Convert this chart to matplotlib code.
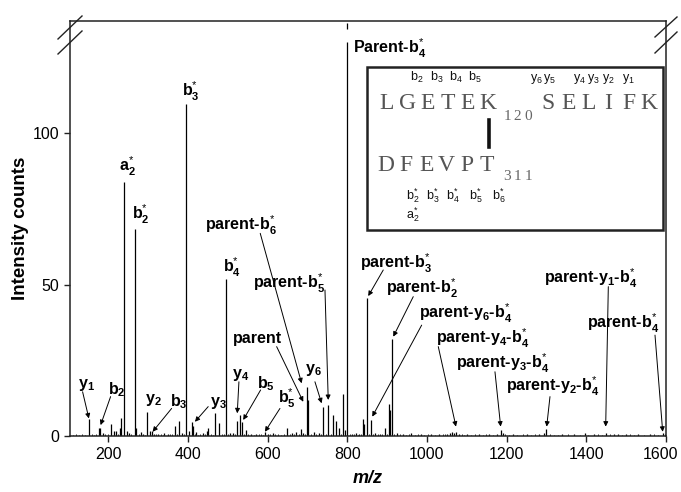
import numpy as np
import matplotlib
matplotlib.use('Agg')
from matplotlib import pyplot as plt
from matplotlib.patches import Rectangle
from matplotlib.lines import Line2D
from matplotlib.transforms import ScaledTranslation

plt.rcParams['font.family'] = ['Liberation Sans', 'DejaVu Sans']
plt.rcParams['mathtext.fontset'] = 'custom'
plt.rcParams['mathtext.rm'] = 'Liberation Sans'
plt.rcParams['mathtext.it'] = 'Liberation Sans:italic'
plt.rcParams['mathtext.bf'] = 'Liberation Sans:bold'

# peaks (m/z, intensity counts)
peak_mz = [151, 176, 180, 186, 206, 215, 219, 229, 233, 239, 246, 252, 267, 270, 281, 287,
           298, 304, 309, 315, 326, 341, 349, 367, 377, 384, 395, 403, 409, 413, 421, 437,
           447, 451, 468, 478, 495, 505, 513, 522, 530, 536, 546, 559, 571, 593, 601, 613,
           648, 660, 672, 684, 690, 698, 702, 716, 730, 740, 752, 765, 772, 778, 790, 795,
           799, 812, 821, 830, 840, 843, 849, 859, 870, 881, 895, 904, 907, 913, 925, 940,
           960, 985, 1010, 1030, 1050, 1058, 1063, 1068, 1073, 1080, 1100, 1130, 1155, 1175,
           1186, 1190, 1215, 1250, 1280, 1293, 1300, 1340, 1370, 1397, 1420, 1449, 1470,
           1480, 1500, 1530, 1560, 1592]
peak_int = [5.5, 2.5, 2.7, 1.0, 4.0, 1.5, 1.8, 2.5, 5.8, 84, 1.6, 1.0, 68.3, 2.5, 1.3, 0.8,
            7.8, 1.5, 1.6, 0.8, 0.6, 0.9, 0.7, 3.4, 5.0, 1.0, 109.5, 1.5, 4.5, 3.2, 1.2, 1.0,
            1.5, 2.5, 7.5, 4.2, 51.7, 1.0, 1.1, 5.0, 6.9, 4.5, 2.0, 0.8, 0.7, 1.2, 0.8, 1.0,
            2.8, 1.1, 1.2, 2.2, 1.0, 16.3, 11.9, 1.2, 1.0, 9.7, 10.2, 6.9, 5.0, 2.5, 14.0, 2.0,
            130, 0.8, 0.9, 0.7, 5.5, 4.0, 45.4, 5.3, 1.0, 0.8, 2.5, 10.6, 8.5, 31.9, 1.0, 0.8,
            1.0, 0.6, 0.5, 0.6, 0.8, 1.0, 1.2, 1.0, 1.3, 0.7, 0.6, 0.5, 0.6, 0.7,
            1.9, 0.9, 0.6, 0.5, 0.6, 0.9, 2.3, 0.5, 0.6, 1.0, 0.5, 1.1, 0.6,
            0.7, 0.8, 0.5, 0.6, 1.1]

# low baseline grass
noise = [(112, .4), (120, .6), (127, .3), (134, .5), (141, .4), (158, .6), (164, .4), (170, .7),
         (193, .5), (199, .8), (224, .6), (258, .5), (276, .7), (292, .4), (321, .5), (333, .6),
         (337, .4), (355, .5), (361, .7), (372, .6), (390, .5), (417, .6), (426, .4), (431, .6),
         (442, .5), (458, .6), (463, .4), (486, .7), (490, .5), (500, .6), (518, .5), (541, .6),
         (552, .5), (565, .4), (578, .6), (584, .5), (589, .4), (607, .6), (619, .5), (626, .7),
         (633, .4), (640, .5), (655, .6), (666, .5), (678, .7), (694, .6), (708, .8), (722, .6),
         (735, .7), (746, .8), (758, .6), (784, .7), (806, .5), (816, .6), (826, .4), (835, .5),
         (854, .6), (864, .5), (876, .6), (887, .5), (900, .7), (918, .5), (932, .6), (948, .4),
         (955, .5), (970, .4), (978, .5), (993, .4), (1003, .5), (1020, .4), (1040, .5),
         (1045, .6), (1088, .5), (1093, .4), (1110, .4), (1120, .5), (1140, .4), (1148, .5),
         (1165, .4), (1197, .5), (1205, .4), (1225, .4), (1240, .5), (1262, .4), (1270, .5),
         (1310, .5), (1320, .4), (1330, .4), (1355, .5), (1385, .4), (1405, .4), (1430, .5),
         (1440, .4), (1460, .5), (1490, .4), (1510, .6), (1520, .4), (1545, .4), (1570, .5),
         (1580, .4), (1597, .5)]
noise_mz = [n[0] for n in noise]
noise_int = [n[1] for n in noise]

# broken top of the Parent-b*4 peak
break_mz = 799
break_seg = (134.5, 136.5)

# (label, label x, label y, arrow start, arrow tip) in data units
labels = [
    (r'b$^{*}_{\mathbf{3}}$', 385, 112.2, None, None),
    (r'a$^{*}_{\mathbf{2}}$', 226.7, 87.2, None, None),
    (r'b$^{*}_{\mathbf{2}}$', 258.6, 71.5, None, None),
    (r'b$^{*}_{\mathbf{4}}$', 487, 53.9, None, None),
    (r'Parent-b$^{*}_{\mathbf{4}}$', 815, 126.3, None, None),
    (r'y$_{\mathbf{2}}$', 292, 10.8, None, None),
    (r'parent-b$^{*}_{\mathbf{6}}$', 442.6, 68.0, (581.5, 66.9), (685.4, 17.4)),
    (r'parent-b$^{*}_{\mathbf{5}}$', 562.5, 48.7, (744, 48.2), (752.2, 11.9)),
    ('parent', 513.9, 30.6, (622.7, 29.5), (689.5, 11.3)),
    (r'y$_{\mathbf{6}}$', 693.7, 20.9, (718.8, 17.9), (735.6, 10.8)),
    (r'y$_{\mathbf{1}}$', 124.5, 15.7, (135.6, 14.6), (151.4, 5.8)),
    (r'b$_{\mathbf{2}}$', 200, 13.8, (205.9, 13.0), (180.8, 3.6)),
    (r'b$_{\mathbf{3}}$', 355, 9.9, (359.1, 9.1), (311.4, 1.4)),
    (r'y$_{\mathbf{3}}$', 455, 9.9, (450.9, 9.7), (417.6, 4.7)),
    (r'y$_{\mathbf{4}}$', 509.7, 19.0, (528, 17.9), (523.8, 7.5)),
    (r'b$_{\mathbf{5}}$', 572.6, 15.7, (582.5, 15.2), (538.8, 5.3)),
    (r'b$^{*}_{\mathbf{5}}$', 625, 10.6, (631, 9.1), (593.3, 1.4)),
    (r'parent-b$^{*}_{\mathbf{3}}$', 832, 55.3, (890.3, 54.8), (852.6, 46.2)),
    (r'parent-b$^{*}_{\mathbf{2}}$', 896, 47.1, (965.6, 46.0), (915.4, 32.8)),
    (r'parent-y$_{\mathbf{6}}$-b$^{*}_{\mathbf{4}}$', 980, 38.8, (986.7, 36.6), (862.7, 6.4)),
    (r'parent-y$_{\mathbf{4}}$-b$^{*}_{\mathbf{4}}$', 1022, 30.6, (1028.4, 29.5), (1072.8, 3.1)),
    (r'parent-y$_{\mathbf{3}}$-b$^{*}_{\mathbf{4}}$', 1073, 22.3, (1170.7, 21.2), (1185, 3.1)),
    (r'parent-y$_{\mathbf{2}}$-b$^{*}_{\mathbf{4}}$', 1197.6, 14.6, (1308.8, 13.0), (1300.5, 3.1)),
    (r'parent-y$_{\mathbf{1}}$-b$^{*}_{\mathbf{4}}$', 1294, 50.4, (1455.2, 49.3), (1448.6, 3.1)),
    (r'parent-b$^{*}_{\mathbf{4}}$', 1402.6, 35.5, (1572.4, 33.3), (1591.7, 1.4)),
]

# inset: peptide sequences
seq_top_left = 'LGETEK'
seq_top_right = 'SELIFK'
seq_bottom = 'DFEVPT'
site_top = '120'
site_bottom = '311'
frag_top_b = [r'b$_{2}$', r'b$_{3}$', r'b$_{4}$', r'b$_{5}$']
frag_top_y = [r'y$_{6}$', r'y$_{5}$', r'y$_{4}$', r'y$_{3}$', r'y$_{2}$', r'y$_{1}$']
frag_bottom = [r'b$^{*}_{2}$', r'b$^{*}_{3}$', r'b$^{*}_{4}$', r'b$^{*}_{5}$', r'b$^{*}_{6}$']

W, H = 681, 492
fig = plt.figure(figsize=(W / 100, H / 100), dpi=100)
ax = fig.add_axes([70 / W, 1 - 436 / H, (666 - 70) / W, (436 - 21) / H])

ax.vlines(noise_mz, 0, noise_int, color='k', lw=0.6)
ax.vlines(peak_mz, 0, peak_int, color='k', lw=0.9)
ax.vlines([break_mz], break_seg[0], break_seg[1], color='k', lw=0.9)

ax.set_xlim(104, 1600)
ax.set_ylim(0, 137)
ax.set_xticks(range(200, 1601, 200))
ax.set_yticks([0, 50, 100])
ax.tick_params(labelsize=11.5, length=4, width=1, pad=4, color='#222')
for s in ax.spines.values():
    s.set_linewidth(1.1)
    s.set_color('#222')
# keep the last tick label inside the picture
last = ax.get_xticklabels()[-1]
last.set_transform(last.get_transform() + ScaledTranslation(-6 / 100, 0, fig.dpi_scale_trans))

ax.set_xlabel('m/z', fontsize=13, fontweight='bold', fontstyle='italic', labelpad=6)
ax.set_ylabel('Intensity counts', fontsize=13.5, fontweight='bold', labelpad=2)

for txt, lx, ly, start, tip in labels:
    ax.text(lx, ly, txt, fontsize=11.5, fontweight='bold', ha='left', va='baseline')
    if start is not None:
        ax.annotate('', xy=tip, xytext=start,
                    arrowprops=dict(arrowstyle='-|>', lw=0.7, color='k',
                                    mutation_scale=7, shrinkA=0, shrinkB=0))


def fx(x):
    return x / W


def fy(y):
    return 1 - y / H


# axis break marks
for (x0, y0, x1, y1) in [(58, 39, 82, 16), (58, 54, 82, 31),
                         (655, 37, 677, 17), (655, 53, 677, 32)]:
    fig.add_artist(Line2D([fx(x0), fx(x1)], [fy(y0), fy(y1)], color='#222', lw=1.0))

# inset box
fig.add_artist(Rectangle((fx(367), fy(230)), (663 - 367) / W, (230 - 67) / H,
                         transform=fig.transFigure, facecolor='white',
                         edgecolor='#222', lw=1.8))

seq_kw = dict(family='Liberation Serif', fontsize=17, color='#555',
              ha='center', va='baseline')
for i, c in enumerate(seq_top_left):
    fig.text(fx(387 + 20.2 * i), fy(109), c, **seq_kw)
for i, c in enumerate(seq_top_right):
    fig.text(fx(548 + 20.2 * i), fy(109), c, **seq_kw)
for i, c in enumerate(seq_bottom):
    fig.text(fx(385.5 + 20.3 * i), fy(171), c, **seq_kw)

num_kw = dict(family='Liberation Serif', fontsize=11, color='#666',
              ha='center', va='baseline')
for i, c in enumerate(site_top):
    fig.text(fx(507 + 10.5 * i), fy(120), c, **num_kw)
for i, c in enumerate(site_bottom):
    fig.text(fx(507 + 10.5 * i), fy(180), c, **num_kw)

# crosslink bar
fig.add_artist(Line2D([fx(489), fx(489)], [fy(120), fy(147)], color='#111', lw=2.6))

frag_kw = dict(fontsize=9, ha='left', va='baseline', color='#111')
for t, x in zip(frag_top_b, [410, 429.5, 449, 468.5]):
    fig.text(fx(x), fy(81), t, **frag_kw)
for t, x in zip(frag_top_y, [530, 543, 573, 587, 602, 622]):
    fig.text(fx(x), fy(81), t, **frag_kw)
for t, x in zip(frag_bottom, [406, 426.5, 446, 469, 492]):
    fig.text(fx(x), fy(199), t, **frag_kw)
fig.text(fx(406), fy(219), r'a$^{*}_{2}$', **frag_kw)

fig.savefig('out.png', dpi=100)
